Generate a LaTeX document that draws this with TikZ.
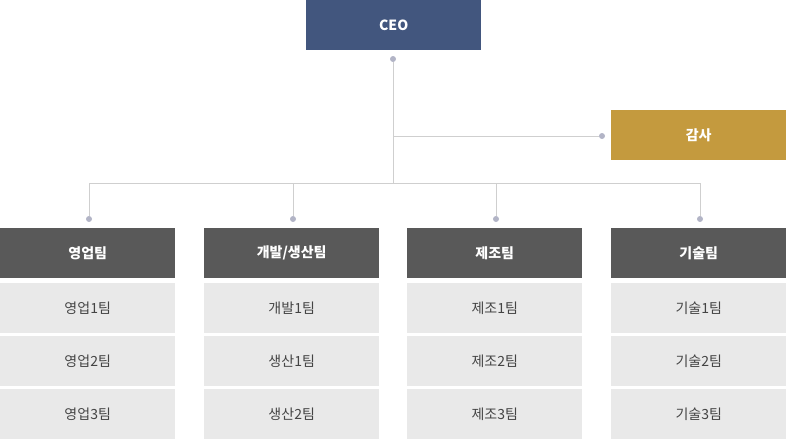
\documentclass[tikz,border=0pt]{standalone}
\usepackage{fontspec}
\setmainfont{Noto Sans CJK KR}
\definecolor{ceoblue}{HTML}{42567E}
\definecolor{gold}{HTML}{C49A3E}
\definecolor{hdr}{HTML}{595959}
\definecolor{sub}{HTML}{E9E9E9}
\definecolor{lin}{HTML}{CFCFCF}
\definecolor{dotc}{HTML}{B2B4C6}
\definecolor{subtext}{HTML}{444444}
\tikzset{
  box/.style={minimum width=175pt, minimum height=50pt, inner sep=0pt, anchor=north west, font=\fontsize{14pt}{16pt}\selectfont},
  topbox/.style={box, text=white, font=\fontsize{14pt}{16pt}\selectfont\bfseries},
  hdrbox/.style={topbox, fill=hdr},
  subbox/.style={box, fill=sub, text=subtext},
  conn/.style={draw=lin, line width=1pt},
  pdot/.style={circle, fill=dotc, inner sep=0pt, minimum size=6pt}
}
\begin{document}
\begin{tikzpicture}[x=1pt,y=-1pt]
\useasboundingbox (0,0) rectangle (786,439);
\node[topbox, fill=ceoblue] (ceo) at (306,0) {CEO};
\node[topbox, fill=gold] (audit) at (611,110) {감사};
\node[pdot] (d0) at (393,59) {};
\node[pdot] (da) at (602,136) {};
\coordinate (j) at (393,183);
\coordinate (ja) at (393,136);
\draw[conn] (d0) -- (j);
\draw[conn] (ja) -- (da);
\foreach \i/\x/\h/\a/\b/\c in {1/0/영업팀/영업1팀/영업2팀/영업3팀, 2/204/{개발/생산팀}/개발1팀/생산1팀/생산2팀, 3/407/제조팀/제조1팀/제조2팀/제조3팀, 4/611/기술팀/기술1팀/기술2팀/기술3팀}{
  \node[hdrbox] (h\i) at (\x,228) {\h};
  \node[subbox] (s\i a) at (\x,283) {\a};
  \node[subbox] (s\i b) at (\x,336) {\b};
  \node[subbox] (s\i c) at (\x,389) {\c};
  \node[pdot] (p\i) at (\x+89,219) {};
  \coordinate (t\i) at (\x+89,183);
  \draw[conn] (t\i) -- (p\i);
}
\draw[conn] (t1) -- (t4);
\end{tikzpicture}
\end{document}
